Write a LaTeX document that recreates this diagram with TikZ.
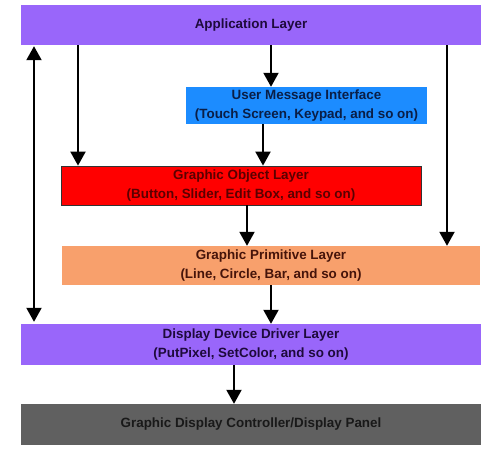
\documentclass[tikz,border=0pt]{standalone}
\usepackage{fontspec}
\setmainfont{Liberation Sans}
\usetikzlibrary{arrows.meta}
\definecolor{purp}{RGB}{153,102,250}
\definecolor{umiblue}{RGB}{28,140,255}
\definecolor{golred}{RGB}{255,0,0}
\definecolor{gplorange}{RGB}{248,160,108}
\definecolor{gdcgray}{RGB}{96,96,96}
\definecolor{txtpurp}{RGB}{30,10,60}
\definecolor{txtblue}{RGB}{10,30,70}
\definecolor{txtred}{RGB}{90,0,0}
\definecolor{txtorange}{RGB}{70,20,10}
\tikzset{
  layer/.style={rectangle, inner sep=0pt, align=center,
    font=\fontsize{13.4}{18.5}\selectfont\bfseries},
  arr/.style={line width=2pt, -{Triangle[width=15pt,length=14pt]}},
  darr/.style={line width=2pt, {Triangle[width=15pt,length=14pt]}-{Triangle[width=15pt,length=14pt]}},
}
\begin{document}
\begin{tikzpicture}[x=1pt,y=-1pt]
\useasboundingbox (0,0) rectangle (500,453);
\node[layer, fill=purp, text=txtpurp, minimum width=460pt, minimum height=40pt] (app) at (251,25) {Application Layer};
\node[layer, fill=umiblue, text=txtblue, minimum width=241pt, minimum height=37pt] (umi) at (306.5,105.5) {User Message Interface\\(Touch Screen, Keypad, and so on)};
\node[layer, fill=golred, draw=black!80, line width=0.8pt, text=txtred, minimum width=360pt, minimum height=39pt] (gol) at (241,185.5) {Graphic Object Layer\\(Button, Slider, Edit Box, and so on)};
\node[layer, fill=gplorange, text=txtorange, minimum width=418pt, minimum height=39pt] (gpl) at (271,265.5) {Graphic Primitive Layer\\(Line, Circle, Bar, and so on)};
\node[layer, fill=purp, text=txtpurp, minimum width=460pt, minimum height=41pt] (ddd) at (251,344.5) {Display Device Driver Layer\\(PutPixel, SetColor, and so on)};
\node[layer, fill=gdcgray, text=black!90, minimum width=460pt, minimum height=41pt] (gdc) at (251,424.5) {Graphic Display Controller/Display Panel};
\coordinate (c34) at (34,0);
\coordinate (c78) at (78,0);
\coordinate (c271) at (271,0);
\coordinate (c263) at (263,0);
\coordinate (c447) at (447,0);
\coordinate (c247) at (247,0);
\coordinate (c234) at (234,0);
\draw[darr] ([yshift=-1pt]app.south -| c34) -- ([yshift=2pt]ddd.north -| c34);
\draw[arr] (app.south -| c78) -- (gol.north -| c78);
\draw[arr] (app.south -| c271) -- (umi.north -| c271);
\draw[arr] (umi.south -| c263) -- (gol.north -| c263);
\draw[arr] (app.south -| c447) -- (gpl.north -| c447);
\draw[arr] (gol.south -| c247) -- (gpl.north -| c247);
\draw[arr] (gpl.south -| c271) -- (ddd.north -| c271);
\draw[arr] (ddd.south -| c234) -- (gdc.north -| c234);
\end{tikzpicture}
\end{document}
